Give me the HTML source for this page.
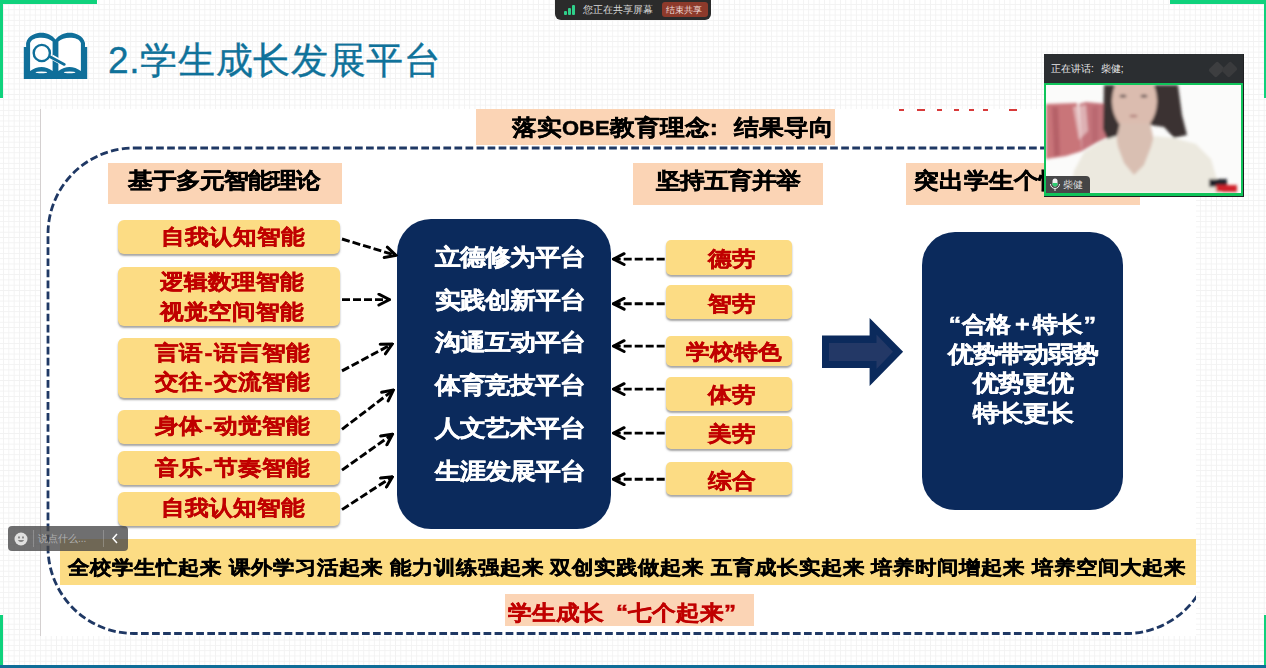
<!DOCTYPE html>
<html><head><meta charset="utf-8">
<style>
html,body{margin:0;padding:0;}
body{width:1266px;height:668px;overflow:hidden;position:relative;background:#fff;font-family:"Liberation Sans",sans-serif;}
.abs{position:absolute;}
.t{position:absolute;white-space:nowrap;}
.b{-webkit-text-stroke:0.5px currentColor;transform:scaleY(0.89);}
#grid{position:absolute;left:0;top:0;width:1266px;height:668px;
 background-image:linear-gradient(90deg,#f2f2f2 1px,transparent 1px),linear-gradient(#f2f2f2 1px,transparent 1px);
 background-size:5.3px 5.3px;background-position:3.1px 4px;}
.g{position:absolute;background:#0fd27c;}
.peach{position:absolute;background:#fbd4b5;}
.yb{position:absolute;background:#fcdc84;border-radius:6px;box-shadow:0 2px 2px rgba(80,80,80,0.5);}
.navy{position:absolute;background:#0b2a5c;}
</style></head>
<body>
<div id="grid"></div>
<div class="g" style="left:0;top:0;width:97px;height:3.5px"></div>
<div class="g" style="left:0;top:0;width:3px;height:98px"></div>
<div class="g" style="left:1170px;top:0;width:96px;height:3.5px"></div>
<div class="g" style="left:1263.8px;top:0;width:2.2px;height:98px"></div>
<div class="g" style="left:0;top:615px;width:3px;height:53px"></div>
<div class="g" style="left:1263.8px;top:615px;width:2.2px;height:53px"></div>
<div class="abs" style="left:0;top:665px;width:1266px;height:3px;background:#0f6d98"></div>
<svg class="abs" style="left:18px;top:26px" width="76" height="60" viewBox="0 0 76 60">
<path fill="#0f6f9a" d="M5.8 53V21.1H8.1V17C10 9 18 6.7 23.4 6.7C29 6.7 34 9 37.5 13.5C41 9 46 6.7 51.6 6.7C57 6.7 65 9 67 17V21.1H69.2V53Z"/>
<path fill="#fff" d="M12.1 45V17C13.5 13 18 11.7 23.4 11.7C28 11.7 32 13 34.6 15.5V45C31 42 27 40.9 23.6 40.9C20 40.9 15 42.5 12.1 45Z"/>
<path fill="#fff" d="M62.9 45V17C61.5 13 57 11.7 51.6 11.7C47 11.7 43 13 40.4 15.5V45C44 42 48 40.9 51.4 40.9C55 40.9 60 42.5 62.9 45Z"/>
<ellipse cx="23.4" cy="46.4" rx="5.8" ry="0.9" fill="#fff"/>
<ellipse cx="51.6" cy="46.4" rx="5.8" ry="0.9" fill="#fff"/>
<line x1="33.7" y1="31" x2="46.3" y2="38.2" stroke="#fff" stroke-width="5"/>
<circle cx="23.8" cy="27" r="8.1" fill="none" stroke="#0f6f9a" stroke-width="2.4"/>
<line x1="32.5" y1="31" x2="46.3" y2="38.4" stroke="#0f6f9a" stroke-width="2.8" stroke-linecap="round"/>
</svg>
<div class="t" style="left:108.0px;top:41.8px;font-size:37px;line-height:37px;color:#10729a;font-weight:normal;-webkit-text-stroke:0.35px #10729a;letter-spacing:0.7px;">2.学生成长发展平台</div>
<div class="abs" style="left:40px;top:109px;width:1px;height:527px;background:#d4d0d0"></div>
<div class="abs" style="left:41px;top:109px;width:1155px;height:527px;background:#fff"></div>
<div class="abs" style="left:899px;top:108.5px;width:5px;height:2px;background:#d83a3a"></div>
<div class="abs" style="left:917px;top:108.5px;width:8px;height:2px;background:#d83a3a"></div>
<div class="abs" style="left:937px;top:108.5px;width:4.5px;height:2px;background:#d83a3a"></div>
<div class="abs" style="left:954px;top:108.5px;width:4.5px;height:2px;background:#d83a3a"></div>
<div class="abs" style="left:969px;top:108.5px;width:4.5px;height:2px;background:#d83a3a"></div>
<div class="abs" style="left:983px;top:108.5px;width:4.5px;height:2px;background:#d83a3a"></div>
<div class="abs" style="left:1009px;top:108.5px;width:8px;height:2px;background:#d83a3a"></div>
<div class="peach" style="left:476px;top:109px;width:359px;height:36px"></div>
<div class="t b" style="left:512.0px;top:115.6px;font-size:24.5px;line-height:24.5px;color:#000;font-weight:bold;">落实<span style="font-size:22px">OBE</span>教育理念<span style="display:inline-block;width:24.5px;text-align:left">:</span>结果导向</div>
<div class="peach" style="left:108px;top:163px;width:234px;height:41px"></div>
<div class="t b" style="left:128.0px;top:169.0px;font-size:24.4px;line-height:24.4px;color:#000;font-weight:bold;">基于多元智能理论</div>
<div class="peach" style="left:633px;top:163px;width:190px;height:42px"></div>
<div class="t b" style="left:655.5px;top:169.0px;font-size:24.2px;line-height:24.2px;color:#000;font-weight:bold;">坚持五育并举</div>
<div class="peach" style="left:906px;top:163px;width:234px;height:42px"></div>
<div class="t b" style="left:913.5px;top:169.2px;font-size:24.5px;line-height:24.5px;color:#000;font-weight:bold;">突出学生个性发展</div>
<div class="yb" style="left:118px;top:220px;width:222px;height:34px"></div>
<div class="yb" style="left:118px;top:266.5px;width:222px;height:59px"></div>
<div class="yb" style="left:118px;top:337.5px;width:222px;height:60px"></div>
<div class="yb" style="left:118px;top:410px;width:222px;height:34px"></div>
<div class="yb" style="left:118px;top:451px;width:222px;height:33.5px"></div>
<div class="yb" style="left:118px;top:492px;width:222px;height:33.5px"></div>
<div class="t b" style="left:161.0px;top:225.1px;font-size:24px;line-height:24px;color:#c00000;font-weight:bold;">自我认知智能</div>
<div class="t b" style="left:160.0px;top:269.5px;font-size:24px;line-height:24px;color:#c00000;font-weight:bold;">逻辑数理智能</div>
<div class="t b" style="left:160.0px;top:300.0px;font-size:24px;line-height:24px;color:#c00000;font-weight:bold;">视觉空间智能</div>
<div class="t b" style="left:155.0px;top:341.1px;font-size:24px;line-height:24px;color:#c00000;font-weight:bold;">言语<span style="margin:0 1.5px">-</span>语言智能</div>
<div class="t b" style="left:155.0px;top:370.2px;font-size:24px;line-height:24px;color:#c00000;font-weight:bold;">交往<span style="margin:0 1.5px">-</span>交流智能</div>
<div class="t b" style="left:155.0px;top:414.3px;font-size:24px;line-height:24px;color:#c00000;font-weight:bold;">身体<span style="margin:0 1.5px">-</span>动觉智能</div>
<div class="t b" style="left:155.0px;top:455.6px;font-size:24px;line-height:24px;color:#c00000;font-weight:bold;">音乐<span style="margin:0 1.5px">-</span>节奏智能</div>
<div class="t b" style="left:161.0px;top:496.2px;font-size:24px;line-height:24px;color:#c00000;font-weight:bold;">自我认知智能</div>
<div class="navy" style="left:397.2px;top:219.2px;width:214px;height:310.2px;border-radius:34px"></div>
<div class="t b" style="left:434.5px;top:244.9px;font-size:25.4px;line-height:25.4px;color:#fff;font-weight:bold;">立德修为平台</div>
<div class="t b" style="left:434.5px;top:287.7px;font-size:25.4px;line-height:25.4px;color:#fff;font-weight:bold;">实践创新平台</div>
<div class="t b" style="left:434.5px;top:330.4px;font-size:25.4px;line-height:25.4px;color:#fff;font-weight:bold;">沟通互动平台</div>
<div class="t b" style="left:434.5px;top:373.2px;font-size:25.4px;line-height:25.4px;color:#fff;font-weight:bold;">体育竞技平台</div>
<div class="t b" style="left:434.5px;top:415.9px;font-size:25.4px;line-height:25.4px;color:#fff;font-weight:bold;">人文艺术平台</div>
<div class="t b" style="left:434.5px;top:458.7px;font-size:25.4px;line-height:25.4px;color:#fff;font-weight:bold;">生涯发展平台</div>
<div class="yb" style="left:666px;top:240.2px;width:126px;height:34.7px;border-radius:5px"></div>
<div class="t b" style="left:708.0px;top:248.3px;font-size:23.5px;line-height:23.5px;color:#c00000;font-weight:bold;">德劳</div>
<div class="yb" style="left:666px;top:285.4px;width:126px;height:34.1px;border-radius:5px"></div>
<div class="t b" style="left:708.0px;top:293.2px;font-size:23.5px;line-height:23.5px;color:#c00000;font-weight:bold;">智劳</div>
<div class="yb" style="left:666px;top:336.3px;width:126px;height:29.7px;border-radius:5px"></div>
<div class="t b" style="left:685.5px;top:340.9px;font-size:23.5px;line-height:23.5px;color:#c00000;font-weight:bold;">学校特色</div>
<div class="yb" style="left:666px;top:376.7px;width:126px;height:34.5px;border-radius:5px"></div>
<div class="t b" style="left:708.0px;top:384.2px;font-size:23.5px;line-height:23.5px;color:#c00000;font-weight:bold;">体劳</div>
<div class="yb" style="left:666px;top:416px;width:126px;height:33.4px;border-radius:5px"></div>
<div class="t b" style="left:708.0px;top:423.4px;font-size:23.5px;line-height:23.5px;color:#c00000;font-weight:bold;">美劳</div>
<div class="yb" style="left:666px;top:462.4px;width:126px;height:32.8px;border-radius:5px"></div>
<div class="t b" style="left:708.0px;top:469.8px;font-size:23.5px;line-height:23.5px;color:#c00000;font-weight:bold;">综合</div>
<svg class="abs" style="left:0;top:0" width="1266" height="668">
<path d="M822 335.6H869.6V318L903.1 351.8L869.6 386.1V368.1H822Z" fill="#0b2a5c"/>
<path d="M829 343H876.5V334.5L893 351.8L876.5 369V361H829Z" fill="#233866"/>
</svg>
<div class="navy" style="left:922.2px;top:232.2px;width:201.1px;height:277.6px;border-radius:33px"></div>
<div class="t b" style="left:948.5px;top:312.2px;font-size:25.3px;line-height:25.3px;color:#fff;font-weight:bold;">“</div>
<div class="t b" style="left:962.0px;top:312.6px;font-size:24.4px;line-height:24.4px;color:#fff;font-weight:bold;">合格</div>
<div class="t b" style="left:1015.0px;top:312.2px;font-size:25.3px;line-height:25.3px;color:#fff;font-weight:bold;">+</div>
<div class="t b" style="left:1032.5px;top:312.3px;font-size:25px;line-height:25px;color:#fff;font-weight:bold;">特长</div>
<div class="t b" style="left:1083.5px;top:312.2px;font-size:25.3px;line-height:25.3px;color:#fff;font-weight:bold;">”</div>
<div class="t b" style="left:922.0px;top:341.5px;font-size:25.3px;line-height:25.3px;color:#fff;font-weight:bold;width:201px;text-align:center;">优势带动弱势</div>
<div class="t b" style="left:922.0px;top:371.2px;font-size:25.3px;line-height:25.3px;color:#fff;font-weight:bold;width:201px;text-align:center;">优势更优</div>
<div class="t b" style="left:922.0px;top:400.8px;font-size:25.3px;line-height:25.3px;color:#fff;font-weight:bold;width:201px;text-align:center;">特长更长</div>
<div class="abs" style="left:60px;top:539px;width:1136px;height:46px;background:#fcdc84"></div>
<div class="t b" style="left:68.3px;top:557.0px;font-size:21.7px;line-height:21.7px;color:#000;font-weight:bold;">全校学生忙起来</div>
<div class="t b" style="left:228.9px;top:557.0px;font-size:21.7px;line-height:21.7px;color:#000;font-weight:bold;">课外学习活起来</div>
<div class="t b" style="left:389.5px;top:557.0px;font-size:21.7px;line-height:21.7px;color:#000;font-weight:bold;">能力训练强起来</div>
<div class="t b" style="left:550.1px;top:557.0px;font-size:21.7px;line-height:21.7px;color:#000;font-weight:bold;">双创实践做起来</div>
<div class="t b" style="left:710.7px;top:557.0px;font-size:21.7px;line-height:21.7px;color:#000;font-weight:bold;">五育成长实起来</div>
<div class="t b" style="left:871.3px;top:557.0px;font-size:21.7px;line-height:21.7px;color:#000;font-weight:bold;">培养时间增起来</div>
<div class="t b" style="left:1031.9px;top:557.0px;font-size:21.7px;line-height:21.7px;color:#000;font-weight:bold;">培养空间大起来</div>
<div class="peach" style="left:505px;top:594px;width:249px;height:32px"></div>
<div class="t b" style="left:508.0px;top:600.5px;font-size:24.1px;line-height:24.1px;color:#c00000;font-weight:bold;">学生成长<span style="display:inline-block;width:24px;text-align:right">“</span>七个起来<span style="display:inline-block;width:12px;text-align:left">”</span></div>
<svg class="abs" style="left:0;top:0" width="1266" height="668">
 <defs>
  <clipPath id="cs"><rect x="41" y="109" width="1155" height="527"/></clipPath>
  <marker id="ah" viewBox="0 0 14 14" refX="12.5" refY="7" markerWidth="14" markerHeight="14" markerUnits="userSpaceOnUse" orient="auto">
   <path d="M1.8 1.6L12.5 7L1.8 12.4" fill="none" stroke="#000" stroke-width="3" stroke-linecap="round" stroke-linejoin="miter"/>
  </marker>
 </defs>
 <g clip-path="url(#cs)" fill="none" stroke="#1f3864" stroke-width="2.8" stroke-dasharray="7.7 3.35">
  <rect x="48" y="148" width="1164" height="485.5" rx="86" ry="86"/>
 </g>
 <g stroke="#000" stroke-width="2.9" stroke-dasharray="8 3" fill="none" marker-end="url(#ah)">
  <line x1="342" y1="239" x2="396" y2="255.4"/>
  <line x1="342" y1="299.6" x2="389.6" y2="299.6"/>
  <line x1="342" y1="370.9" x2="392.2" y2="344"/>
  <line x1="342" y1="429.3" x2="393.4" y2="390.1"/>
  <line x1="342" y1="470.1" x2="392.5" y2="434.2"/>
  <line x1="342" y1="509.6" x2="392.5" y2="476.7"/>
  <line x1="664.7" y1="259.1" x2="613.4" y2="259.1"/>
  <line x1="664.7" y1="303.8" x2="613.4" y2="303.8"/>
  <line x1="664.7" y1="346.1" x2="613.4" y2="346.1"/>
  <line x1="664.7" y1="389.1" x2="613.4" y2="389.1"/>
  <line x1="664.7" y1="433.1" x2="613.4" y2="433.1"/>
  <line x1="664.7" y1="479.3" x2="613.4" y2="479.3"/>
 </g>
</svg>
<div class="abs" style="left:555px;top:0;width:156px;height:20px;background:#2b2b2b;border-radius:0 0 6px 6px"></div>
<div class="abs" style="left:563.5px;top:11px;width:3px;height:4px;background:#2fd08a;border-radius:1px"></div>
<div class="abs" style="left:567.5px;top:8px;width:3px;height:7px;background:#2fd08a;border-radius:1px"></div>
<div class="abs" style="left:571.5px;top:4.5px;width:3px;height:10.5px;background:#2fd08a;border-radius:1px"></div>
<div class="t" style="left:583px;top:3px;font-size:10px;line-height:13px;color:#d8d8d8">您正在共享屏幕</div>
<div class="abs" style="left:661.5px;top:2px;width:46px;height:14.5px;background:#8d3a2b;border-radius:3px"></div>
<div class="t" style="left:665.5px;top:3.5px;font-size:9.4px;line-height:12px;color:#f0dcd8">结束共享</div>
<div class="abs" style="left:1043.5px;top:54px;width:200.5px;height:143px;background:#1f2022"></div>
<div class="abs" style="left:1044px;top:54px;width:199px;height:29px;background:#2b2e31"></div>
<div class="t" style="left:1051px;top:62px;font-size:10px;line-height:13px;color:#e8e8e8">正在讲话:<span style="margin-left:7px">柴健;</span></div>
<svg class="abs" style="left:1205px;top:58px" width="38" height="24" viewBox="0 0 38 24">
 <rect x="6" y="5" width="11" height="13" rx="2" transform="rotate(45 11.5 11.5)" fill="#3d3e40"/>
 <rect x="19" y="5" width="11" height="13" rx="2" transform="rotate(45 24.5 11.5)" fill="#3a3b3d"/>
</svg>
<div class="abs" style="left:1044px;top:83px;width:199px;height:112.5px;background:#10c45a"></div>
<svg class="abs" style="left:1046px;top:85px" width="195" height="108" viewBox="0 0 195 108">
 <defs><filter id="bl" x="-20%" y="-20%" width="140%" height="140%"><feGaussianBlur stdDeviation="1.6"/></filter></defs>
 <rect width="195" height="108" fill="#fbfbfa"/>
 <g filter="url(#bl)">
  <path d="M0 19 L31 18 L36 66 L20 71 L0 74Z" fill="#c97479"/>
  <path d="M33 19 L40 17 L61 19 L62 52 L50 58 L36 66Z" fill="#c4737a"/>
  <path d="M27 22 L40 20 L42 46 L33 55Z" fill="#f0dada" opacity="0.6"/>
  <path d="M6 22 L12 22 L14 70 L8 72Z" fill="#a9545e" opacity="0.6"/>
  <path d="M46 22 L52 21 L52 55 L46 58Z" fill="#b05f68" opacity="0.5"/>
  <path d="M58 0 H132 L136 30 L141 50 L128 53 L118 42 L104 40 L76 40 L70 52 L62 55 L57 44Z" fill="#3b3331"/>
  <ellipse cx="88.5" cy="16" rx="22.5" ry="31" fill="#dbbcaf"/>
  <ellipse cx="77" cy="11" rx="3.5" ry="1.6" fill="#6a5a58"/>
  <ellipse cx="98" cy="11" rx="3.5" ry="1.6" fill="#6a5a58"/>
  <ellipse cx="87.5" cy="31" rx="4" ry="1.3" fill="#b07f7a"/>
  <path d="M74 38 L104 38 L108 56 L104 74 L96 86 L88 90 L80 86 L73 74 L70 56Z" fill="#d9bfb2"/>
  <rect x="151" y="71" width="7" height="16" fill="#8a8680"/>
  <path d="M24 108 L28 86 L38 67 L58 55 L70 51 L72 62 L78 78 L88 90 L98 80 L105 62 L108 51 L128 53 L150 59 L165 74 L175 108Z" fill="#ece9df"/>
  <rect x="163" y="94" width="18" height="8" fill="#22242a"/>
  <rect x="170" y="100" width="21" height="7" fill="#d0202a"/>
 </g>
</svg>
<div class="abs" style="left:1046px;top:176px;width:44px;height:17px;background:rgba(40,40,42,0.85);border-radius:0 4px 0 0"></div>
<svg class="abs" style="left:1049px;top:178px" width="12" height="14" viewBox="0 0 12 14">
 <rect x="3.5" y="0.5" width="5" height="8" rx="2.5" fill="#f0f0f0"/>
 <path d="M3.5 5H8.5V6A2.5 2.5 0 0 1 3.5 6Z" fill="#2ecc71"/>
 <path d="M1.5 6A4.5 4.5 0 0 0 10.5 6" fill="none" stroke="#f0f0f0" stroke-width="1"/>
 <line x1="6" y1="10.5" x2="6" y2="13" stroke="#f0f0f0" stroke-width="1"/>
</svg>
<div class="t" style="left:1063px;top:179px;font-size:10px;line-height:12px;color:#dddddd">柴健</div>
<div class="abs" style="left:8px;top:526px;width:120px;height:25px;background:rgba(70,70,72,0.78);border-radius:4px"></div>
<svg class="abs" style="left:14px;top:532px" width="14" height="14" viewBox="0 0 14 14"><circle cx="7" cy="7" r="6.5" fill="#e0e0e0"/><rect x="4.3" y="4.2" width="1.4" height="2.4" rx="0.7" fill="#666"/><rect x="8.3" y="4.2" width="1.4" height="2.4" rx="0.7" fill="#666"/><path d="M3.8 8.2Q7 11.5 10.2 8.2Z" fill="#666"/></svg>
<div class="abs" style="left:33px;top:530px;width:1px;height:17px;background:rgba(200,200,200,0.35)"></div>
<div class="t" style="left:38px;top:533px;font-size:10px;line-height:12px;color:#b0b0b0">说点什么...</div>
<div class="abs" style="left:103px;top:530px;width:1px;height:17px;background:rgba(200,200,200,0.35)"></div>
<svg class="abs" style="left:110px;top:532px" width="10" height="13" viewBox="0 0 10 13"><path d="M7 2L3 6.5L7 11" fill="none" stroke="#fff" stroke-width="1.5"/></svg>
</body></html>
